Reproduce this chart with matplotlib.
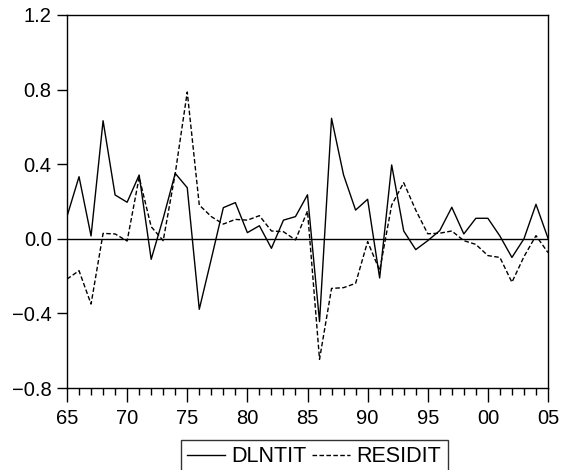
import matplotlib
matplotlib.use("Agg")
import matplotlib.pyplot as plt
from matplotlib.ticker import MultipleLocator, FixedLocator

plt.rcParams['font.family'] = ['Liberation Sans', 'DejaVu Sans']

years = list(range(1965, 2006))
dlntit = [0.12, 0.333, 0.015, 0.633, 0.235, 0.196, 0.342, -0.11, 0.11, 0.351,
          0.274, -0.378, -0.108, 0.167, 0.194, 0.033, 0.07, -0.051, 0.10, 0.119,
          0.236, -0.444, 0.646, 0.342, 0.154, 0.212, -0.21, 0.396, 0.042, -0.058,
          -0.01, 0.044, 0.169, 0.026, 0.11, 0.11, 0.015, -0.10, 0.0, 0.185, 0.003]
residit = [-0.216, -0.171, -0.35, 0.029, 0.026, -0.012, 0.33, 0.065, -0.01, 0.35,
           0.787, 0.181, 0.119, 0.079, 0.104, 0.10, 0.124, 0.042, 0.038, -0.006,
           0.149, -0.646, -0.266, -0.262, -0.239, -0.015, -0.17, 0.181, 0.301, 0.154,
           0.027, 0.03, 0.042, -0.01, -0.03, -0.09, -0.10, -0.233, -0.096, 0.017, -0.074]
xtick_labels = ["65", "70", "75", "80", "85", "90", "95", "00", "05"]
ytick_vals = [-0.8, -0.4, 0.0, 0.4, 0.8, 1.2]
ytick_labels = ["\u22120.8", "\u22120.4", "0.0", "0.4", "0.8", "1.2"]

fig = plt.figure(figsize=(5.69, 4.70), dpi=100)
ax = fig.add_axes([67/569, 1-388/470, (548-67)/569, (388-15)/470])

ax.axhline(0, color='black', lw=1.0, zorder=1)
l1, = ax.plot(years, dlntit, color='black', lw=1.0, label='DLNTIT', zorder=3)
l2, = ax.plot(years, residit, color='black', lw=1.0, ls=(0, (3.3, 1.7)), label='RESIDIT', zorder=2)

ax.set_xlim(1965, 2005)
ax.set_ylim(-0.8, 1.2)
ax.xaxis.set_major_locator(FixedLocator(list(range(1965, 2006, 5))))
ax.set_xticklabels(xtick_labels)
ax.xaxis.set_minor_locator(MultipleLocator(1))
ax.set_yticks(ytick_vals)
ax.set_yticklabels(ytick_labels)

ax.tick_params(axis='both', which='major', direction='out', labelsize=14.5, color='black', width=1.0)
ax.tick_params(axis='x', which='major', length=10, pad=5)
ax.tick_params(axis='x', which='minor', length=5, width=1.0, direction='out')
ax.tick_params(axis='y', which='major', length=7, pad=4)
for s in ax.spines.values():
    s.set_linewidth(1.0)
    s.set_color('black')

leg = fig.legend(handles=[l1, l2], loc='upper left', bbox_to_anchor=(181/569, 1-440/470),
                 ncol=2, frameon=True, fancybox=False, fontsize=15.5,
                 handlelength=1.75, handletextpad=0.3, columnspacing=0.25,
                 borderpad=0.3, borderaxespad=0)
leg.get_frame().set_edgecolor('black')
leg.get_frame().set_linewidth(1.0)

fig.savefig('out.png', dpi=100)
